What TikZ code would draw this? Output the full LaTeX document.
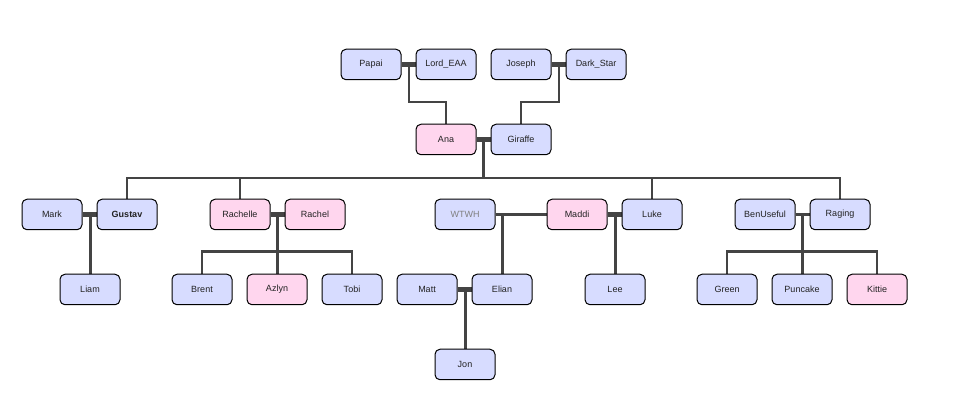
\documentclass[tikz,border=0pt]{standalone}
\usepackage{fontspec}
\setmainfont{Liberation Sans}
\usetikzlibrary{calc,backgrounds}
\definecolor{mblue}{HTML}{D7DCFF}
\definecolor{fpink}{HTML}{FFD6EE}
\definecolor{lcol}{HTML}{444444}
\definecolor{tcol}{HTML}{222222}
\tikzset{
  person/.style={draw=black, line width=1pt, rounded corners=5pt, minimum width=60pt, minimum height=30.5pt, inner sep=0pt, font=\fontsize{9}{11}\selectfont, text=tcol},
  male/.style={person, fill=mblue},
  female/.style={person, fill=fpink},
  link/.style={draw=lcol, line width=2.6pt},
  bar/.style={draw=lcol, line width=5.5pt},
}
\begin{document}
\begin{tikzpicture}[x=1pt,y=-1pt]
\useasboundingbox (0,0) rectangle (964,419);
% generation 1
\node[male] (Papai) at (371,64.5) {Papai};
\node[male] (LordEAA) at (446,64.5) {Lord\_EAA};
\node[male] (Joseph) at (521,64.5) {Joseph};
\node[male] (DarkStar) at (596,64.5) {Dark\_Star};
% generation 2
\node[female] (Ana) at (446,139.5) {Ana};
\node[male] (Giraffe) at (521,139.5) {Giraffe};
% generation 3
\node[male] (Mark) at (52,214.5) {Mark};
\node[male] (Gustav) at (127,214.5) {\bfseries Gustav};
\node[female] (Rachelle) at (240,214.5) {Rachelle};
\node[female] (Rachel) at (315,214.5) {Rachel};
\node[male, text=gray] (WTWH) at (465,214.5) {WTWH};
\node[female] (Maddi) at (577,214.5) {Maddi};
\node[male] (Luke) at (652,214.5) {Luke};
\node[male] (BenUseful) at (765,214.5) {BenUseful};
\node[male] (Raging) at (840,214.5) {Raging};
% generation 4
\node[male] (Liam) at (90,289.5) {Liam};
\node[male] (Brent) at (202,289.5) {Brent};
\node[female] (Azlyn) at (277,289.5) {Azlyn};
\node[male] (Tobi) at (352,289.5) {Tobi};
\node[male] (Matt) at (427,289.5) {Matt};
\node[male] (Elian) at (502,289.5) {Elian};
\node[male] (Lee) at (615,289.5) {Lee};
\node[male] (Green) at (727,289.5) {Green};
\node[male] (Puncake) at (802,289.5) {Puncake};
\node[female] (Kittie) at (877,289.5) {Kittie};
% generation 5
\node[male] (Jon) at (465,364.5) {Jon};

% junction coordinates
\coordinate (jPL) at ($(Papai.east)+(7.5,0)$);
\coordinate (jJD) at ($(Joseph.east)+(7.5,0)$);
\coordinate (jAG) at ($(Ana.east)+(7,0)$);
\coordinate (jMG) at ($(Mark.east)+(8,0)$);
\coordinate (jRR) at ($(Rachelle.east)+(7,0)$);
\coordinate (jWM) at ($(WTWH.east)+(7,0)$);
\coordinate (jML) at ($(Maddi.east)+(8,0)$);
\coordinate (jBR) at ($(BenUseful.east)+(7,0)$);
\coordinate (jME) at ($(Matt.east)+(8,0)$);
\coordinate (top) at (0,178);

\begin{scope}[on background layer]
% couples
\draw[bar] (Papai.east) -- (LordEAA.west);
\draw[bar] (Joseph.east) -- (DarkStar.west);
\draw[bar] (Ana.east) -- (Giraffe.west);
\draw[bar] (Mark.east) -- (Gustav.west);
\draw[bar] (Rachelle.east) -- (Rachel.west);
\draw[link] (WTWH.east) -- (Maddi.west);
\draw[bar] (Maddi.east) -- (Luke.west);
\draw[link] (BenUseful.east) -- (Raging.west);
\draw[bar] (Matt.east) -- (Elian.west);
% descent
\draw[link] (jPL) -- ++(0,37.5) -| (Ana.north);
\draw[link] (jJD) -- ++(0,37.5) -| (Giraffe.north);
\draw[link] (jAG) -- (jAG|-top);
\draw[link] (Gustav.north) -- (Gustav.north|-top) -- (Raging.north|-top) -- (Raging.north);
\draw[link] (Rachelle.north) -- (Rachelle.north|-top);
\draw[link] (Luke.north) -- (Luke.north|-top);
\draw[link] (jMG) -- (jMG|-Liam.north);
\draw[link] (jRR) -- (jRR|-Azlyn.north);
\draw[link] (Brent.north) -- ++(0,-22) -| (Tobi.north);
\draw[link] (jWM) -- (jWM|-Elian.north);
\draw[link] (jML) -- (jML|-Lee.north);
\draw[link] (jME) -- (jME|-Jon.north);
\draw[link] (jBR) -- (jBR|-Puncake.north);
\draw[link] (Green.north) -- ++(0,-22) -| (Kittie.north);
\end{scope}
\end{tikzpicture}
\end{document}
